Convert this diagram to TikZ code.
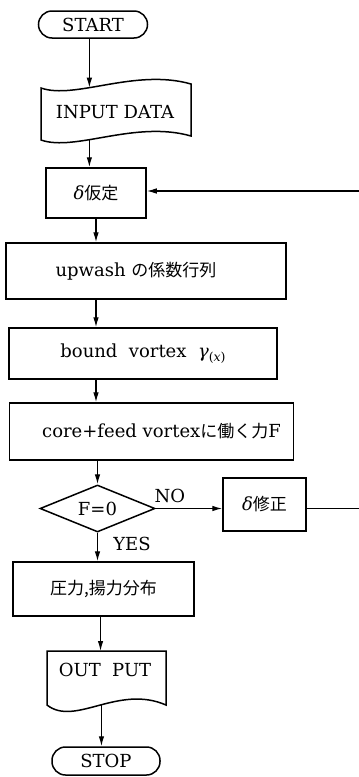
\documentclass[tikz,border=0pt]{standalone}
\usepackage{fontspec}
\setmainfont{DejaVu Serif}
\newfontfamily\cjk{Noto Sans CJK JP}
\newcommand\jptext[1]{{\cjk\fontsize{17}{20}\selectfont #1}}
\newcommand\gsub[1]{\raisebox{-0.35ex}{\fontsize{12.5}{13}\selectfont #1}}
\usetikzlibrary{shapes.geometric,arrows.meta}
\begin{document}
\begin{tikzpicture}[x=1pt,y=-1pt,
  every node/.style={font=\fontsize{18}{21}\selectfont},
  box/.style={draw,line width=1.5pt,inner sep=0pt},
  term/.style={box,rounded corners=13.5pt},
  shp/.style={line width=1.5pt},
  arr/.style={line width=1.1pt,-{Latex[length=10pt,width=5.5pt]}},
  ln/.style={line width=1.1pt},
  lbl/.style={inner sep=0pt}]
\useasboundingbox (0,0) rectangle (359,777);

% terminals
\node[term,minimum width=109pt,minimum height=27pt] (start) at (93,24.5) {START};
\node[term,minimum width=108pt,minimum height=28pt] (stop) at (106,761) {STOP};

% input tape
\draw[shp] (41,88) .. controls (75,100) and (135,68) .. coordinate[pos=0.38] (inptop) (191,84)
  -- (191,136) .. controls (135,120) and (75,152) .. coordinate[pos=0.62] (inpbot) (41,140) -- cycle;
\node[lbl] (inp) at (115,112) {INPUT DATA};

% process boxes
\node[box,minimum width=100pt,minimum height=50pt] (assume) at (96,193) {\textit{δ}\jptext{仮定}};
\node[box,minimum width=280pt,minimum height=56pt] (upw) at (146,271) {upwash\ \jptext{の係数行列}\hspace*{20pt}};
\node[box,minimum width=268pt,minimum height=51pt] (bound) at (143,353.5) {bound\ \ vortex\ \ \textit{γ}\gsub{(\textit{x})}};
\node[box,minimum width=284pt,minimum height=57pt] (core) at (151.5,431.5) {\hspace*{20pt}core+feed vortex\jptext{に働く力}F};

% decision
\node[box,diamond,aspect=2.4,minimum width=115pt,minimum height=47pt] (dia) at (97.5,508.5) {F=0};
\node[box,minimum width=83pt,minimum height=53pt] (fix) at (264.5,504.5) {\textit{δ}\jptext{修正}};
\node[lbl] (lno) at (170,496) {NO};
\node[lbl] (lyes) at (132,544) {YES};

\node[box,minimum width=181pt,minimum height=54pt] (pr) at (103.5,589) {\jptext{圧力,揚力分布}};

% output document
\draw[shp] (47,651) -- coordinate[pos=0.45] (outtop) (166,651) -- (166,705)
  .. controls (118,684) and (75,727) .. coordinate[pos=0.48] (outbot) (47,705) -- cycle;
\node[lbl] (out) at (105,670) {OUT\ \ PUT};

% connectors
\draw[arr] (start.south -| inptop) -- (inptop);
\draw[arr] (inpbot) -- (inpbot |- assume.north);
\draw[arr] (assume.south) -- (assume.south |- upw.north);
\draw[arr] (upw.south -| assume.south) -- (bound.north -| assume.south);
\draw[arr] (bound.south -| assume.south) -- (core.north -| assume.south);
\draw[arr] (core.south -| dia.north) -- (dia.north);
\draw[arr] (dia.south) -- (dia.south |- pr.north);
\draw[arr] (dia.east) -- (dia.east -| fix.west);
\draw[arr] (pr.south -| outtop) -- (outtop);
\draw[arr] (outbot) -- (outbot |- stop.north);

\coordinate (e1) at (359,508.5);
\coordinate (e2) at (359,191);
\draw[ln] (dia.east -| fix.east) -- (e1);
\draw[arr] (e2) -- (e2 -| assume.east);
\end{tikzpicture}
\end{document}
